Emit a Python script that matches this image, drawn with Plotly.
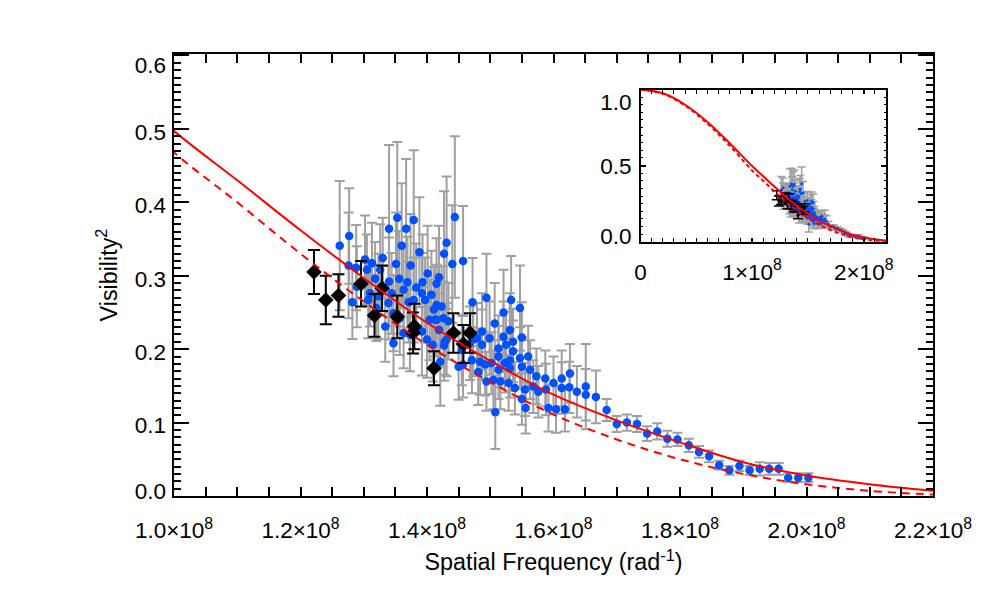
import plotly.graph_objects as go

# ---------------- data ----------------
# model curves (spatial frequency in units of 1e8 rad^-1, V^2)
model_f = [0.0, 0.2, 0.4, 0.6, 0.8, 1.0, 1.1, 1.2, 1.3, 1.4, 1.5, 1.6, 1.7, 1.8, 1.9, 2.0, 2.1, 2.2]
model_solid = [1.0, 0.975, 0.90, 0.787, 0.647, 0.497, 0.43, 0.362, 0.297, 0.236, 0.184, 0.138,
               0.103, 0.073, 0.046, 0.028, 0.016, 0.007]
model_dashed = [1.0, 0.972, 0.893, 0.775, 0.630, 0.468, 0.400, 0.330, 0.265, 0.206, 0.155, 0.111,
                0.077, 0.050, 0.030, 0.016, 0.007, 0.002]

# black diamonds
blk_f = [1.2213, 1.240, 1.260, 1.2957, 1.317, 1.329, 1.353, 1.380, 1.378, 1.411, 1.4417, 1.4575, 1.468]
blk_v = [0.305, 0.267, 0.273, 0.289, 0.246, 0.283, 0.244, 0.231, 0.222, 0.174, 0.222, 0.207, 0.222]
blk_e = [0.030, 0.033, 0.029, 0.031, 0.029, 0.031, 0.029, 0.031, 0.028, 0.023, 0.027, 0.026, 0.027]

# blue points
blu_f = [1.262, 1.276, 1.277, 1.282, 1.288, 1.289, 1.302, 1.305, 1.307, 1.310, 1.313, 1.318, 1.320,
         1.323, 1.326, 1.330, 1.334, 1.339, 1.340, 1.340, 1.344, 1.347, 1.347, 1.351, 1.353, 1.356,
         1.357, 1.360, 1.363, 1.363, 1.367, 1.369, 1.371, 1.373, 1.374, 1.379, 1.379, 1.383, 1.388,
         1.392, 1.392, 1.393, 1.397, 1.400, 1.401, 1.404, 1.407, 1.409, 1.411, 1.413, 1.415, 1.415,
         1.415, 1.419, 1.419, 1.421, 1.423, 1.426, 1.427, 1.427, 1.428, 1.431, 1.431, 1.434, 1.440,
         1.444, 1.450, 1.455, 1.457, 1.457, 1.468, 1.471, 1.472, 1.473, 1.479, 1.481, 1.484, 1.487,
         1.487, 1.492, 1.494, 1.494, 1.499, 1.502, 1.505, 1.507, 1.508, 1.513, 1.513, 1.513, 1.516,
         1.521, 1.521, 1.523, 1.525, 1.529, 1.531, 1.531, 1.531, 1.533, 1.536, 1.536, 1.539, 1.547,
         1.547, 1.550, 1.550, 1.550, 1.555, 1.556, 1.560, 1.563, 1.568, 1.573, 1.576, 1.587, 1.588,
         1.592, 1.600, 1.604, 1.613, 1.613, 1.618, 1.625, 1.626, 1.637, 1.651, 1.651, 1.667, 1.684,
         1.700, 1.716, 1.732, 1.748, 1.764, 1.780, 1.796, 1.814, 1.830, 1.846, 1.862, 1.878, 1.894,
         1.910, 1.926, 1.941, 1.956, 1.971, 1.987, 2.003]
blu_v = [0.341, 0.314, 0.354, 0.264, 0.311, 0.285, 0.322, 0.308, 0.267, 0.276, 0.317, 0.296, 0.256,
         0.272, 0.308, 0.324, 0.231, 0.263, 0.364, 0.292, 0.276, 0.208, 0.249, 0.316, 0.379, 0.296,
         0.242, 0.341, 0.281, 0.222, 0.364, 0.291, 0.264, 0.220, 0.314, 0.376, 0.267, 0.284, 0.332,
         0.276, 0.224, 0.291, 0.267, 0.213, 0.303, 0.240, 0.274, 0.206, 0.254, 0.240, 0.289, 0.240,
         0.260, 0.298, 0.226, 0.183, 0.258, 0.242, 0.330, 0.205, 0.210, 0.345, 0.213, 0.238, 0.316,
         0.380, 0.176, 0.199, 0.320, 0.179, 0.208, 0.185, 0.264, 0.213, 0.215, 0.169, 0.183, 0.224,
         0.206, 0.179, 0.270, 0.156, 0.215, 0.181, 0.158, 0.235, 0.114, 0.201, 0.190, 0.172, 0.156,
         0.250, 0.217, 0.181, 0.206, 0.154, 0.226, 0.185, 0.174, 0.267, 0.210, 0.197, 0.147, 0.256,
         0.188, 0.216, 0.176, 0.132, 0.145, 0.120, 0.190, 0.172, 0.149, 0.163, 0.142, 0.160, 0.145,
         0.120, 0.154, 0.118, 0.160, 0.147, 0.118, 0.148, 0.167, 0.142, 0.149, 0.138, 0.135, 0.117,
         0.098, 0.100, 0.098, 0.085, 0.088, 0.078, 0.077, 0.069, 0.060, 0.054, 0.042, 0.035, 0.041,
         0.035, 0.037, 0.037, 0.037, 0.025, 0.025, 0.025]
blu_e = [0.088, 0.072, 0.065, 0.050, 0.058, 0.055, 0.060, 0.048, 0.052, 0.045, 0.055, 0.050, 0.045,
         0.058, 0.062, 0.055, 0.048, 0.050, 0.114, 0.060, 0.055, 0.045, 0.052, 0.070, 0.103, 0.065,
         0.050, 0.085, 0.060, 0.048, 0.095, 0.062, 0.055, 0.050, 0.070, 0.095, 0.058, 0.060, 0.075,
         0.055, 0.060, 0.065, 0.058, 0.052, 0.065, 0.055, 0.060, 0.050, 0.058, 0.050, 0.062, 0.050,
         0.055, 0.070, 0.050, 0.060, 0.055, 0.050, 0.085, 0.048, 0.045, 0.090, 0.050, 0.052, 0.080,
         0.110, 0.045, 0.048, 0.075, 0.045, 0.050, 0.045, 0.060, 0.050, 0.048, 0.045, 0.045, 0.052,
         0.048, 0.042, 0.060, 0.040, 0.050, 0.042, 0.040, 0.055, 0.050, 0.045, 0.042, 0.040, 0.038,
         0.058, 0.048, 0.040, 0.045, 0.038, 0.050, 0.042, 0.040, 0.060, 0.045, 0.042, 0.036, 0.058,
         0.042, 0.048, 0.040, 0.035, 0.036, 0.035, 0.042, 0.040, 0.036, 0.038, 0.035, 0.038, 0.035,
         0.032, 0.036, 0.032, 0.038, 0.035, 0.030, 0.035, 0.040, 0.035, 0.058, 0.035, 0.036, 0.015,
         0.011, 0.011, 0.011, 0.010, 0.011, 0.011, 0.009, 0.009, 0.008, 0.008, 0.006, 0.006, 0.007,
         0.006, 0.009, 0.008, 0.008, 0.006, 0.006, 0.006]

main_xticks = [1.0, 1.2, 1.4, 1.6, 1.8, 2.0, 2.2]
main_xlabels = ["1.0×10<sup>8</sup>", "1.2×10<sup>8</sup>", "1.4×10<sup>8</sup>", "1.6×10<sup>8</sup>",
                "1.8×10<sup>8</sup>", "2.0×10<sup>8</sup>", "2.2×10<sup>8</sup>"]
main_yticks = [0.0, 0.1, 0.2, 0.3, 0.4, 0.5, 0.6]
main_ylabels = ["0.0", "0.1", "0.2", "0.3", "0.4", "0.5", "0.6"]
inset_xticks = [0.0, 1.0, 2.0]
inset_xlabels = ["0", "1×10<sup>8</sup>", "2×10<sup>8</sup>"]
inset_yticks = [0.0, 0.5, 1.0]
inset_ylabels = ["0.0", "0.5", "1.0"]

SCALE = 1e8
mf = [f * SCALE for f in model_f]
bkf = [f * SCALE for f in blk_f]
buf = [f * SCALE for f in blu_f]

FONT = "Liberation Sans, Arial, Helvetica, sans-serif"
RED = "#ff0000"
BLUE = "#0050ff"
GRAY = "#a0a0a0"
TICK_SIZE = 22.5
TITLE_SIZE = 23.3

MAIN_YRANGE = [0, 0.602]
INSET_YRANGE = [0, 1.0]

# the page body has an 8px default margin: build the figure 8px smaller so the
# plot area lands at the reference's window position
BODY = 8
WIN_W, WIN_H = 984, 607
W, H = WIN_W - BODY, WIN_H - BODY
L, R, T, B = 174 - BODY, 933 - BODY, 54 - BODY, 496 - BODY
pw, ph = R - L, B - T
ix0, ix1, iy0, iy1 = 640.5 - BODY, 886 - BODY, 89.5 - BODY, 241.7 - BODY

# IDL keeps the end tick labels inside the axis box: nudge the end labels inward (in px)
def label_positions(ticks, yrange, height_px, low_px, high_px):
    per_px = (yrange[1] - yrange[0]) / height_px
    pos = list(ticks)
    pos[0] += low_px * per_px
    pos[-1] -= high_px * per_px
    return pos

main_ylabel_pos = label_positions(main_yticks, MAIN_YRANGE, ph, 8, 7)
inset_ylabel_pos = label_positions(inset_yticks, INSET_YRANGE, iy1 - iy0, 7, 12)

fig = go.Figure()

for xa, ya, big in (("x", "y", True), ("x2", "y2", False)):
    fig.add_trace(go.Scatter(
        x=buf, y=blu_v, mode="markers", xaxis=xa, yaxis=ya,
        marker=dict(color=BLUE, size=8.5 if big else 3),
        error_y=dict(type="data", array=blu_e, color=GRAY,
                     thickness=2 if big else 1.5, width=5 if big else 4),
        showlegend=False, hoverinfo="skip"))
    fig.add_trace(go.Scatter(
        x=bkf, y=blk_v, mode="markers", xaxis=xa, yaxis=ya,
        marker=dict(color="black", size=12 if big else 3, symbol="diamond"),
        error_y=dict(type="data", array=blk_e, color="black",
                     thickness=2 if big else 1.5, width=6 if big else 5),
        showlegend=False, hoverinfo="skip"))
    fig.add_trace(go.Scatter(
        x=mf, y=model_dashed, mode="lines", xaxis=xa, yaxis=ya,
        line=dict(color=RED, width=2, dash="8px,6px" if big else "4px,3px", shape="spline"),
        showlegend=False, hoverinfo="skip"))
    fig.add_trace(go.Scatter(
        x=mf, y=model_solid, mode="lines", xaxis=xa, yaxis=ya,
        line=dict(color=RED, width=2, shape="spline"),
        showlegend=False, hoverinfo="skip"))

# empty traces so the label-only overlay axes are created
fig.add_trace(go.Scatter(x=[], y=[], xaxis="x", yaxis="y3", showlegend=False, hoverinfo="skip"))
fig.add_trace(go.Scatter(x=[], y=[], xaxis="x2", yaxis="y4", showlegend=False, hoverinfo="skip"))

axis_common = dict(showgrid=False, zeroline=False, showline=True, linecolor="black",
                   mirror="allticks", ticks="inside", tickcolor="black", tickwidth=2,
                   tickfont=dict(family=FONT, size=TICK_SIZE, color="black"))
label_axis = dict(showgrid=False, zeroline=False, showline=False, ticks="",
                  tickfont=dict(family=FONT, size=TICK_SIZE, color="black"), tickmode="array")

fig.update_layout(
    width=W, height=H,
    margin=dict(l=L, r=W - R, t=T, b=H - B, pad=0),
    paper_bgcolor="white", plot_bgcolor="white",
    font=dict(family=FONT, size=TICK_SIZE, color="black"),
    xaxis=dict(range=[1.0 * SCALE, 2.2 * SCALE], tickmode="array",
               tickvals=[t * SCALE for t in main_xticks], ticktext=main_xlabels,
               ticklen=9, linewidth=2, ticklabelstandoff=13,
               minor=dict(tickmode="linear", tick0=1.0 * SCALE, dtick=0.05 * SCALE,
                          ticks="inside", ticklen=5, tickwidth=2, tickcolor="black"),
               title=dict(text="Spatial Frequency (rad<sup>-1</sup>)",
                          font=dict(family=FONT, size=TITLE_SIZE), standoff=12),
               **axis_common),
    yaxis=dict(range=MAIN_YRANGE, tickmode="array", tickvals=main_yticks, ticktext=main_ylabels,
               showticklabels=False, ticklen=15, linewidth=2,
               minor=dict(tickmode="linear", tick0=0, dtick=0.01,
                          ticks="inside", ticklen=7, tickwidth=2, tickcolor="black"),
               **axis_common),
    yaxis3=dict(overlaying="y", anchor="x", side="left", range=MAIN_YRANGE,
                tickvals=main_ylabel_pos, ticktext=main_ylabels,
                ticklabelstandoff=7, ticklabelshift=3,
                title=dict(text="Visibility<sup>2</sup>", font=dict(family=FONT, size=TITLE_SIZE),
                           standoff=10),
                **label_axis),
    xaxis2=dict(domain=[(ix0 - L) / pw, (ix1 - L) / pw], anchor="y2",
                range=[0, 2.2 * SCALE], tickmode="array",
                tickvals=[t * SCALE for t in inset_xticks], ticktext=inset_xlabels,
                ticklen=4, linewidth=2, ticklabelstandoff=9,
                minor=dict(tickmode="linear", tick0=0, dtick=0.1 * SCALE,
                           ticks="inside", ticklen=2, tickwidth=1, tickcolor="black"),
                **axis_common),
    yaxis2=dict(domain=[(B - iy1) / ph, (B - iy0) / ph], anchor="x2",
                range=INSET_YRANGE, tickmode="array", tickvals=inset_yticks, ticktext=inset_ylabels,
                showticklabels=False, ticklen=5, linewidth=2,
                minor=dict(tickmode="linear", tick0=0, dtick=0.05,
                           ticks="inside", ticklen=2, tickwidth=1, tickcolor="black"),
                **axis_common),
    yaxis4=dict(overlaying="y2", anchor="x2", side="left", range=INSET_YRANGE,
                tickvals=inset_ylabel_pos, ticktext=inset_ylabels,
                ticklabelstandoff=8, ticklabelshift=1,
                **label_axis),
)

fig.write_html("out.html")
